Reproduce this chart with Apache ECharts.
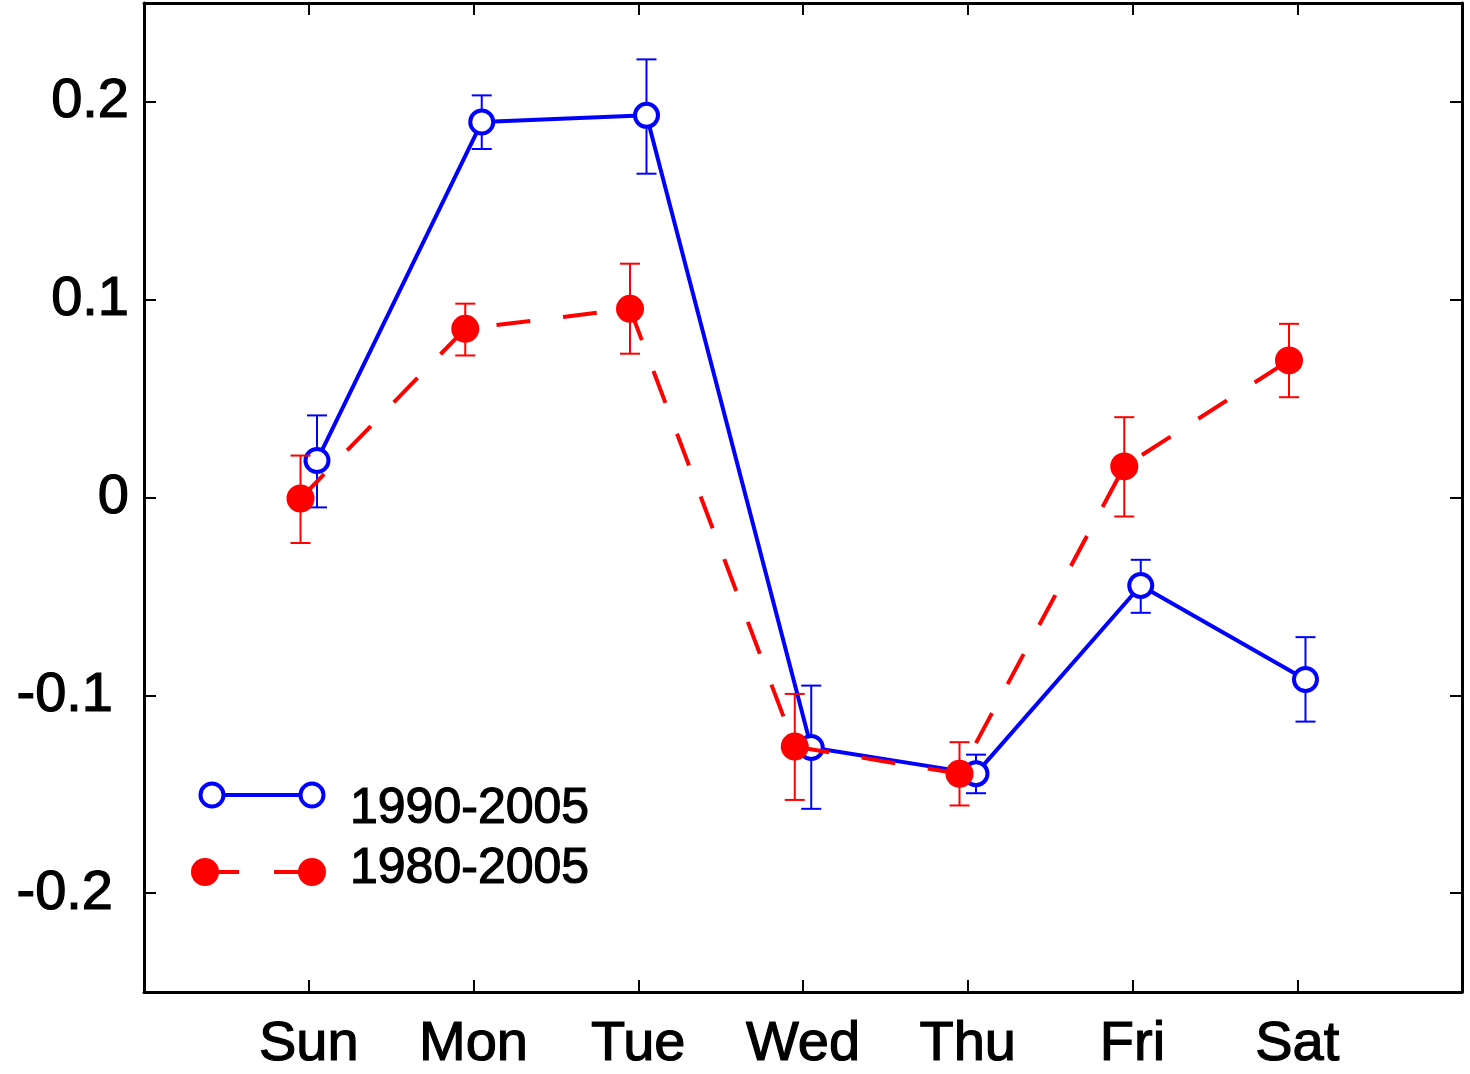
<!DOCTYPE html>
<html>
<head>
<meta charset="utf-8">
<script src="https://cdn.jsdelivr.net/npm/echarts@6/dist/echarts.min.js"></script>
<style>
  html, body { margin: 0; padding: 0; background: #ffffff; }
  #chart { width: 1470px; height: 1074px; }
</style>
</head>
<body>
<div id="chart"></div>
<script>
// Day-of-week anomaly, two analysis periods, with error bars
const days = ['Sun', 'Mon', 'Tue', 'Wed', 'Thu', 'Fri', 'Sat'];
const dayTicks = [1, 2, 3, 4, 5, 6, 7];
const yTicks = [-0.2, -0.1, 0, 0.1, 0.2];

const mean1990 = [0.0187, 0.1898, 0.1932, -0.1264, -0.1396, -0.0445, -0.0920];
const low1990  = [-0.0050, 0.1762, 0.1637, -0.1574, -0.1495, -0.0583, -0.1133];
const high1990 = [0.0415, 0.2033, 0.2215, -0.0951, -0.1300, -0.0315, -0.0706];

const mean1980 = [-0.0005, 0.0853, 0.0954, -0.1259, -0.1397, 0.0157, 0.0693];
const low1980  = [-0.0230, 0.0718, 0.0727, -0.1529, -0.1557, -0.0096, 0.0507];
const high1980 = [0.0212, 0.0980, 0.1182, -0.0993, -0.1237, 0.0406, 0.0878];

const FONT = 'Liberation Sans';
const FS = 56;        // axis tick labels
const LEGEND_FS = 50; // legend entries
const BLUE = '#0000ff';
const RED = '#ff0000';
const SHIFT = 0.05; // horizontal dodge between the two series

const heavyText = { textBorderColor: '#000', textBorderWidth: 1.2 };

function points(mean, dx) { return mean.map((v, i) => [dayTicks[i] + dx, v]); }
function ranges(low, high, dx) { return low.map((l, i) => [dayTicks[i] + dx, l, high[i]]); }

function errorBar(color) {
  return function (params, api) {
    const x = api.value(0);
    const lo = api.coord([x, api.value(1)]);
    const hi = api.coord([x, api.value(2)]);
    const cap = 10;
    const style = { stroke: color, lineWidth: 2 };
    return {
      type: 'group',
      children: [
        { type: 'line', shape: { x1: lo[0], y1: lo[1], x2: hi[0], y2: hi[1] }, style },
        { type: 'line', shape: { x1: lo[0] - cap, y1: lo[1], x2: lo[0] + cap, y2: lo[1] }, style },
        { type: 'line', shape: { x1: hi[0] - cap, y1: hi[1], x2: hi[0] + cap, y2: hi[1] }, style }
      ]
    };
  };
}

const frameLine = { show: true, onZero: false, lineStyle: { color: '#000', width: 3 } };
const tickStyle = { color: '#000', width: 2 };

function xAxisDef(pos, labels) {
  return {
    type: 'value', min: 0, max: 8, position: pos,
    axisLine: frameLine,
    axisTick: { show: true, inside: true, length: 12, lineStyle: tickStyle, customValues: dayTicks },
    axisLabel: Object.assign({
      show: labels, customValues: dayTicks, margin: 25,
      formatter: v => days[Math.round(v) - 1] || '',
      fontFamily: FONT, fontSize: FS, color: '#000'
    }, heavyText),
    splitLine: { show: false }
  };
}
function yAxisDef(pos, labels) {
  const base = Object.assign({ fontFamily: FONT, fontSize: FS, color: '#000' }, heavyText);
  return {
    type: 'value', min: -0.25, max: 0.25, position: pos,
    axisLine: frameLine,
    axisTick: { show: true, inside: true, length: 12, lineStyle: tickStyle, customValues: yTicks },
    axisLabel: Object.assign({
      show: labels, customValues: yTicks, margin: 15,
      formatter: v => {
        if (Math.abs(v) < 1e-9) return '0';
        const s = v.toFixed(1);
        return v < 0 ? '{neg|' + s + '}' : s;
      },
      rich: { neg: Object.assign({ padding: [0, 16, 0, 0] }, base) }
    }, base),
    splitLine: { show: false }
  };
}

const legendText = Object.assign({ fontFamily: FONT, fontSize: LEGEND_FS, fill: '#000', verticalAlign: 'middle',
  stroke: '#000', lineWidth: 1.2 });

const chart = echarts.init(document.getElementById('chart'), null, { renderer: 'canvas' });
chart.setOption({
  animation: false,
  backgroundColor: '#ffffff',
  grid: { left: 144, right: 8, top: 3, bottom: 82, containLabel: false, outerBoundsMode: 'none' },
  xAxis: [xAxisDef('bottom', true), xAxisDef('top', false)],
  yAxis: [yAxisDef('left', true), yAxisDef('right', false)],
  series: [
    {
      name: '1990-2005 range', type: 'custom', renderItem: errorBar(BLUE),
      data: ranges(low1990, high1990, SHIFT), encode: { x: 0, y: [1, 2] }, z: 2
    },
    {
      name: '1990-2005', type: 'line', data: points(mean1990, SHIFT),
      symbol: 'circle', symbolSize: 23, showAllSymbol: true,
      lineStyle: { color: BLUE, width: 4 },
      itemStyle: { color: '#ffffff', borderColor: BLUE, borderWidth: 4 },
      z: 3
    },
    {
      name: '1980-2005 range', type: 'custom', renderItem: errorBar(RED),
      data: ranges(low1980, high1980, -SHIFT), encode: { x: 0, y: [1, 2] }, z: 4
    },
    {
      name: '1980-2005', type: 'line', data: points(mean1980, -SHIFT),
      symbol: 'circle', symbolSize: 28, showAllSymbol: true,
      lineStyle: { color: RED, width: 4, type: [34, 33] },
      itemStyle: { color: RED, borderWidth: 0 },
      z: 5
    }
  ],
  graphic: [
    { type: 'line', shape: { x1: 212, y1: 795, x2: 312, y2: 795 }, style: { stroke: BLUE, lineWidth: 4 } },
    { type: 'circle', shape: { cx: 212, cy: 795, r: 11.5 }, style: { fill: '#fff', stroke: BLUE, lineWidth: 4 } },
    { type: 'circle', shape: { cx: 312, cy: 795, r: 11.5 }, style: { fill: '#fff', stroke: BLUE, lineWidth: 4 } },
    { type: 'text', x: 350, y: 809, style: Object.assign({ text: '1990-2005' }, legendText) },
    { type: 'line', shape: { x1: 205, y1: 872, x2: 312, y2: 872 }, style: { stroke: RED, lineWidth: 4, lineDash: [34, 35] } },
    { type: 'circle', shape: { cx: 205, cy: 872, r: 14 }, style: { fill: RED } },
    { type: 'circle', shape: { cx: 312, cy: 872, r: 14 }, style: { fill: RED } },
    { type: 'text', x: 350, y: 869, style: Object.assign({ text: '1980-2005' }, legendText) }
  ]
});
</script>
</body>
</html>
